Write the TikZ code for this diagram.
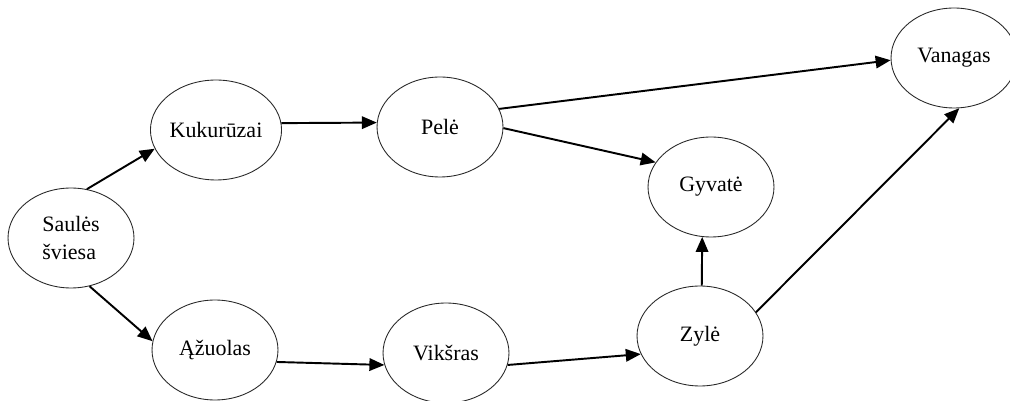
\documentclass[tikz,border=0pt]{standalone}
\usepackage{fontspec}
\setmainfont{Liberation Serif}
\usepackage{xcolor}
\definecolor{edge-gray}{RGB}{40,40,40}
\usetikzlibrary{shapes.geometric,arrows.meta}

\begin{document}
\begin{tikzpicture}[
    x=0.02cm, y=0.02cm,
    food node/.style={
        ellipse,
        draw=edge-gray,
        line width=0.5pt,
        fill=white,
        minimum width=2.52cm,
        minimum height=2.0cm,
        inner sep=0pt,
        align=left,
        font=\fontsize{12.5}{16}\selectfont
    },
    arrow/.style={-{Triangle[length=3mm, width=2.5mm]}, line width=1.1pt, black}
]

% Canvas
\useasboundingbox (0,0) rectangle (1010,-401);

% Source
\node[food node] (saules) at (71,-238) {Saulės\\šviesa};

% Upper chain
\node[food node] (kuku) at (216,-130) {Kukurūzai};
\node[food node] (pele) at (440,-127) {Pelė};
\node[food node] (vanagas) at (954,-58) {Vanagas};
\node[food node] (gyvate) at (711,-187) {Gyvatė};

% Lower chain
\node[food node] (azuolas) at (215,-350) {Ąžuolas};
\node[food node] (viksras) at (446,-353) {Vikšras};
\node[food node] (zyle) at (700,-336) {Zylė};

% Arrows from the sun
\draw[arrow] (saules.72) -- (kuku.197);
\draw[arrow] (saules.-69) -- (azuolas.172);

% Upper arrows
\draw[arrow] (kuku.6) -- (pele.176);
\draw[arrow] (pele.17) -- (vanagas.182);
\draw[arrow] (pele.-1) -- (gyvate.156);

% Lower arrows
\draw[arrow] (azuolas.-11) -- (viksras.191);
\draw[arrow] (viksras.-11) -- (zyle.197);
\draw[arrow] (zyle.88) -- (gyvate.260);
\draw[arrow] (zyle.23) -- (vanagas.-84);

\end{tikzpicture}
\end{document}
